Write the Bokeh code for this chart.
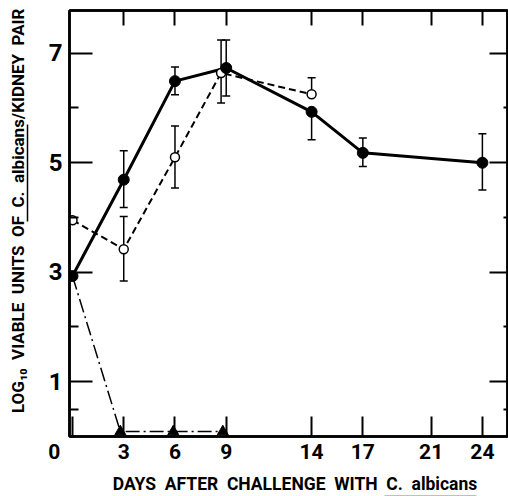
from bokeh.plotting import figure
from bokeh.models import (Range1d, LinearAxis, FixedTicker, ColumnDataSource,
                          Whisker, TeeHead)
from bokeh.embed import file_html
from bokeh.resources import INLINE

# ---- data ----
x_ticks = [0, 3, 6, 9, 14, 17, 21, 24]
y_major = [1, 3, 5, 7]
y_minor = [0.5, 2, 4, 6]

solid_days = [0, 3, 6, 9, 14, 17, 24]
solid_vals = [2.93, 4.69, 6.49, 6.73, 5.93, 5.18, 5.00]
solid_err_days = [3, 6, 9, 14, 17, 24]
solid_err_lo = [4.18, 6.24, 6.22, 5.42, 4.93, 4.50]
solid_err_hi = [5.22, 6.75, 7.24, 5.93, 5.45, 5.53]

open_days = [0, 3, 6, 8.7, 14]
open_vals = [3.95, 3.42, 5.10, 6.64, 6.25]
open_err_days = [3, 6, 8.7, 14]
open_err_lo = [2.84, 4.54, 6.09, 6.25]
open_err_hi = [4.02, 5.67, 7.24, 6.55]

tri_line_days = [0, 2.8, 5.9, 8.8]
tri_line_vals = [2.93, 0.09, 0.09, 0.09]
tri_days = [2.8, 5.9, 8.8]
tri_vals = [0.09, 0.09, 0.09]

S = "\u00a0 "
x_title = "\u00a0" * 3 + S.join(["DAYS", "AFTER", "CHALLENGE", "WITH", "C.",
                                  "albicans"])
y_title = "\u00a0" * 6 + S.join(["LOG\u2081\u2080", "VIABLE", "UNITS", "OF",
                                  "C.", "albicans/KIDNEY", "PAIR"])
x_underline = (18.28, 23.68)  # span of "C. albicans" (days)
y_underline = (3.92, 5.69)    # span of "C. albicans" (log units)

FONT = "Roboto"

p = figure(width=508, height=496, output_backend="svg", toolbar_location=None,
           x_range=Range1d(-0.176, 25.47), y_range=Range1d(0, 7.78),
           min_border_left=69, min_border_right=1, min_border_top=10,
           min_border_bottom=58, x_axis_location=None, y_axis_location=None)
p.xgrid.visible = False
p.ygrid.visible = False
p.outline_line_color = "black"
p.outline_line_width = 2.5
p.background_fill_color = "white"
p.border_fill_color = "white"

def style_axis(ax, major_in, minor_in, labels=True, fs="22px"):
    ax.axis_line_width = 2.5
    ax.axis_line_color = "black"
    ax.major_tick_in = major_in
    ax.major_tick_out = 0
    ax.minor_tick_in = minor_in
    ax.minor_tick_out = 0
    ax.major_tick_line_width = 2
    ax.minor_tick_line_width = 2
    ax.major_tick_line_color = "black"
    ax.minor_tick_line_color = "black"
    ax.major_label_text_font = FONT
    ax.major_label_text_font_style = "bold"
    ax.major_label_text_color = "black"
    ax.major_label_text_font_size = fs
    ax.axis_label_text_font = FONT
    ax.axis_label_text_font_style = "bold"
    ax.axis_label_text_color = "black"
    if not labels:
        ax.major_label_text_font_size = "1px"
        ax.major_label_text_color = None
        ax.major_label_standoff = 0

def bare_axis(bounds="auto", line_width=1.5, line_color="black"):
    ax = LinearAxis(ticker=FixedTicker(ticks=[], minor_ticks=[]), bounds=bounds)
    ax.axis_line_width = line_width
    ax.axis_line_color = line_color
    ax.major_tick_in = 0
    ax.major_tick_out = 0
    ax.minor_tick_in = 0
    ax.minor_tick_out = 0
    ax.major_label_text_font_size = "1px"
    ax.major_label_text_color = None
    ax.major_label_standoff = 0
    ax.axis_label_text_font = FONT
    ax.axis_label_text_font_style = "bold"
    ax.axis_label_text_color = "black"
    return ax

# bottom: ticks + labels + title, then underline just below the title
bottom = LinearAxis(ticker=FixedTicker(ticks=x_ticks, minor_ticks=[]))
bottom.major_label_overrides = {0: "0" + "\u00a0" * 7}
style_axis(bottom, 20, 0, fs="21px")
bottom.major_label_standoff = 3
bottom.axis_label = x_title
bottom.axis_label_text_font_size = "17.5px"
bottom.axis_label_standoff = 7
p.add_layout(bottom, "below")
p.add_layout(bare_axis(bounds=x_underline), "below")

top = LinearAxis(ticker=FixedTicker(ticks=x_ticks[1:], minor_ticks=[]))
style_axis(top, 15, 0, labels=False)
p.add_layout(top, "above")

# left: ticks + labels, underline, then title
left = LinearAxis(ticker=FixedTicker(ticks=y_major, minor_ticks=y_minor))
style_axis(left, 23, 9, fs="24px")
left.major_label_standoff = 7
left.major_label_overrides = {t: "\u00a0\u00a0\u00a0" + str(t) for t in y_major}
p.add_layout(left, "left")
p.add_layout(bare_axis(bounds=y_underline), "left")
ytitle_ax = bare_axis(line_color=None)
ytitle_ax.axis_label = y_title
ytitle_ax.axis_label_text_font_size = "17px"
ytitle_ax.axis_label_standoff = 0
p.add_layout(ytitle_ax, "left")

right = LinearAxis(ticker=FixedTicker(ticks=y_major, minor_ticks=y_minor))
style_axis(right, 18, 4, labels=False)
p.add_layout(right, "right")

# ---- lines ----
p.line(tri_line_days, tri_line_vals, line_color="black", line_width=1.5,
       line_dash="14 4 2 4")
p.scatter(tri_days, tri_vals, marker="triangle", size=11, color="black")

p.line(open_days, open_vals, line_color="black", line_width=2, line_dash="7 4")
p.line(solid_days, solid_vals, line_color="black", line_width=3)

osrc = ColumnDataSource(dict(x=open_err_days, lo=open_err_lo, hi=open_err_hi))
ssrc = ColumnDataSource(dict(x=solid_err_days, lo=solid_err_lo, hi=solid_err_hi))
for src in (osrc, ssrc):
    w = Whisker(source=src, base="x", lower="lo", upper="hi", line_width=1.5,
                line_color="black",
                upper_head=TeeHead(size=8, line_width=1.5, line_color="black"),
                lower_head=TeeHead(size=8, line_width=1.5, line_color="black"))
    p.add_layout(w)

p.scatter(open_days, open_vals, marker="circle", size=9, fill_color="white",
          line_color="black", line_width=1.5)
p.scatter(solid_days, solid_vals, marker="circle", size=11, color="black")

open("out.html", "w").write(file_html(p, INLINE))
